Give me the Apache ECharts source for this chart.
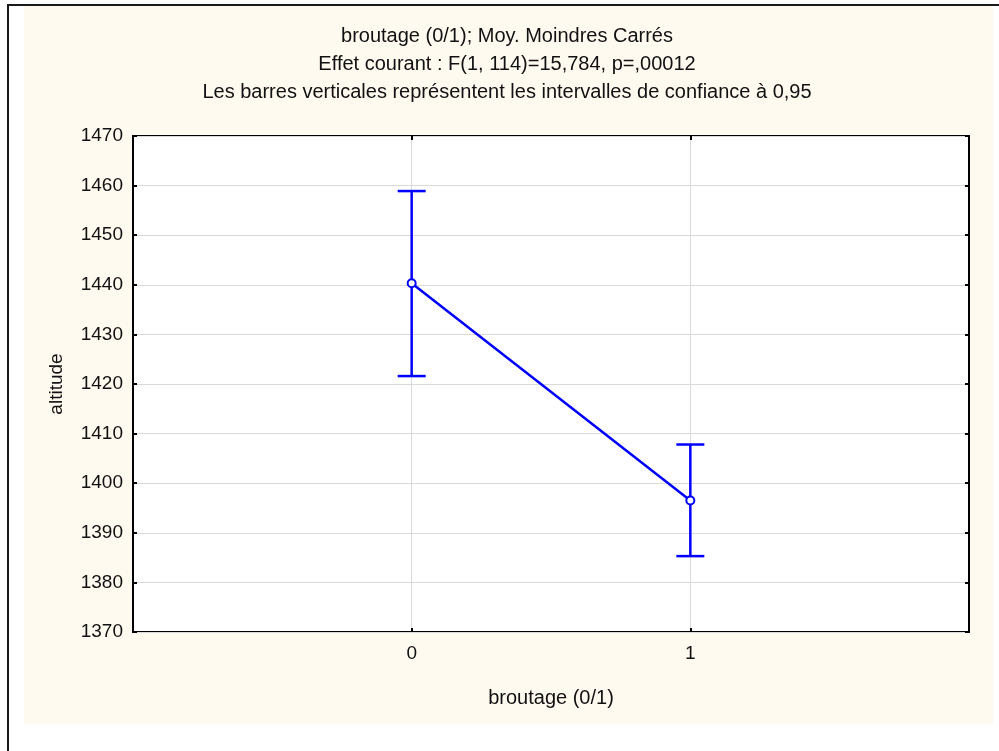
<!DOCTYPE html>
<html>
<head>
<meta charset="utf-8">
<script src="https://cdn.jsdelivr.net/npm/echarts@6/dist/echarts.min.js"></script>
<style>
  html, body { margin: 0; padding: 0; background: #fff; }
  #chart { width: 999px; height: 751px; }
</style>
</head>
<body>
<div id="chart"></div>
<script>
// broutage groups on the x axis
const groups = [0, 1]
// least-squares means of altitude and their 95% confidence limits
const means = [1440.3, 1396.5]
const lower = [1421.6, 1385.3]
const upper = [1458.9, 1407.8]

const titleLines = [
  'broutage (0/1); Moy. Moindres Carrés',
  'Effet courant : F(1, 114)=15,784, p=,00012',
  'Les barres verticales représentent les intervalles de confiance à 0,95',
]

const blue = '#0000FF'
const font = '"Liberation Sans", Arial, sans-serif'
const txt = '#111'

const chart = echarts.init(document.getElementById('chart'))

const tick = { show: true, inside: true, length: 4, lineStyle: { color: '#000', width: 2 } }

chart.setOption({
  backgroundColor: '#fff',
  animation: false,
  textStyle: { fontFamily: font },
  graphic: [
    { type: 'rect', shape: { x: 24, y: 6, width: 969, height: 718 }, style: { fill: '#FFFAEF' }, z: -10 },
    { type: 'rect', shape: { x: 8, y: 5, width: 1020, height: 800 }, style: { fill: null, stroke: '#1a1a1a', lineWidth: 2 }, z: -9 },
  ],
  title: {
    text: titleLines.join('\n'),
    left: 507,
    top: 22,
    padding: 0,
    textAlign: 'center',
    textStyle: { fontSize: 20, fontWeight: 'normal', color: txt, lineHeight: 28, fontFamily: font },
  },
  grid: {
    left: 133, top: 136, width: 836, height: 496,
    show: true, backgroundColor: '#fff', borderColor: '#000', borderWidth: 2,
  },
  xAxis: [
    {
      type: 'value', min: -1, max: 2, interval: 1,
      name: 'broutage (0/1)', nameLocation: 'middle', nameGap: 56,
      nameTextStyle: { fontSize: 20, color: txt, fontFamily: font },
      axisLine: { show: false, onZero: false },
      axisTick: Object.assign({ customValues: groups }, tick),
      axisLabel: { fontSize: 19, color: txt, margin: 12, customValues: groups },
      splitLine: { show: true, lineStyle: { color: '#dadada', width: 1 } },
    },
    {
      type: 'value', position: 'top', min: -1, max: 2, interval: 1,
      axisLine: { show: false, onZero: false },
      axisTick: Object.assign({ customValues: groups }, tick),
      axisLabel: { show: false },
      splitLine: { show: false },
    },
  ],
  yAxis: [
    {
      type: 'value', min: 1370, max: 1470, interval: 10,
      name: 'altitude', nameLocation: 'middle', nameGap: 67,
      nameTextStyle: { fontSize: 19, color: txt, fontFamily: font },
      axisLine: { show: false, onZero: false },
      axisTick: tick,
      axisLabel: { fontSize: 19, color: txt, margin: 10, formatter: (v) => String(v) },
      splitLine: { show: true, lineStyle: { color: '#dadada', width: 1 } },
    },
    {
      type: 'value', position: 'right', min: 1370, max: 1470, interval: 10,
      axisLine: { show: false, onZero: false },
      axisTick: tick,
      axisLabel: { show: false },
      splitLine: { show: false },
    },
  ],
  series: [
    {
      type: 'custom',
      data: groups.map((g, i) => [g, lower[i], upper[i]]),
      encode: { x: 0, y: [1, 2] },
      renderItem: (params, api) => {
        const lo = api.coord([api.value(0), api.value(1)])
        const hi = api.coord([api.value(0), api.value(2)])
        const half = 14
        const style = { stroke: blue, lineWidth: 2.5 }
        return {
          type: 'group',
          children: [
            { type: 'line', shape: { x1: lo[0], y1: lo[1], x2: hi[0], y2: hi[1] }, style },
            { type: 'line', shape: { x1: hi[0] - half, y1: hi[1], x2: hi[0] + half, y2: hi[1] }, style },
            { type: 'line', shape: { x1: lo[0] - half, y1: lo[1], x2: lo[0] + half, y2: lo[1] }, style },
          ],
        }
      },
      z: 3,
    },
    {
      type: 'line',
      data: groups.map((g, i) => [g, means[i]]),
      symbol: 'circle',
      symbolSize: 8,
      itemStyle: { color: '#fff', borderColor: blue, borderWidth: 2 },
      lineStyle: { color: blue, width: 2.5 },
      z: 4,
    },
  ],
})
</script>
</body>
</html>
